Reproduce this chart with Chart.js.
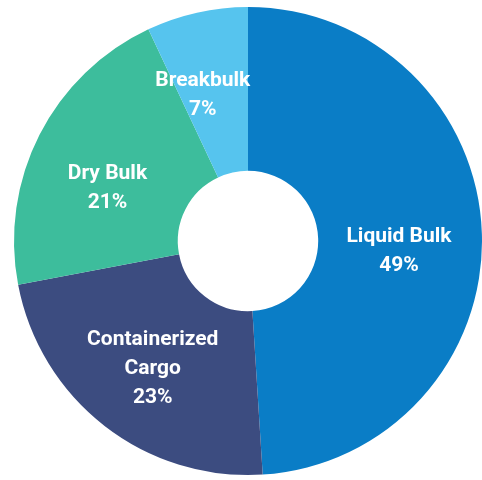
<!DOCTYPE html>
<html>
<head>
<meta charset="utf-8">
<script src="https://cdn.jsdelivr.net/npm/chart.js@4"></script>
<style>
  html, body { margin: 0; padding: 0; background: #ffffff; }
  #wrap { width: 482px; height: 480px; }
</style>
</head>
<body>
<div id="wrap"><canvas id="cargoChart"></canvas></div>
<script>
// ------------------------------
// Cargo mix data
// ------------------------------
const categories = ["Liquid Bulk", "Containerized Cargo", "Dry Bulk", "Breakbulk"];
const shares = [49, 23, 21, 7];   // percent of total
const labelLines = [
    ["Liquid Bulk"],
    ["Containerized", "Cargo"],
    ["Dry Bulk"],
    ["Breakbulk"]
];
const sliceColors = ["#0a7dc6", "#3c4c80", "#3dbd9c", "#56c4ee"];

// nudge each label block away from the arc centroid (px)
const labelNudge = [[-1, 15], [-2, 8], [-5, 16], [-12, 3]];


// ------------------------------
// Labels drawn inside each slice
// ------------------------------
const sliceLabels = {
    id: "sliceLabels",
    afterDatasetsDraw(chart) {
        const c = chart.ctx;
        const meta = chart.getDatasetMeta(0);
        const lineHeight = 29;
        c.save();
        c.fillStyle = "#ffffff";
        c.font = "bold 21px Roboto, 'Liberation Sans', sans-serif";
        c.textAlign = "center";
        c.textBaseline = "middle";
        meta.data.forEach((arc, i) => {
            const pos = arc.tooltipPosition();
            const x = pos.x + labelNudge[i][0];
            const y = pos.y + labelNudge[i][1];
            const lines = labelLines[i].concat([shares[i] + "%"]);
            const startY = y - (lines.length - 1) * lineHeight / 2;
            lines.forEach((txt, j) => {
                c.fillText(txt, x, startY + j * lineHeight);
            });
        });
        c.restore();
    }
};


// ------------------------------
// Chart.js Code
// ------------------------------
const ctx = document.getElementById("cargoChart");

new Chart(ctx, {
    type: "doughnut",
    data: {
        labels: categories,
        datasets: [
            {
                data: shares,
                backgroundColor: sliceColors,
                borderWidth: 0
            }
        ]
    },
    options: {
        responsive: true,
        maintainAspectRatio: false,
        animation: false,
        cutout: "30%",
        layout: {
            padding: { left: 14, right: 0, top: 7, bottom: 5 }
        },
        plugins: {
            legend: { display: false },
            tooltip: { enabled: false }
        }
    },
    plugins: [sliceLabels]
});
</script>
</body>
</html>
